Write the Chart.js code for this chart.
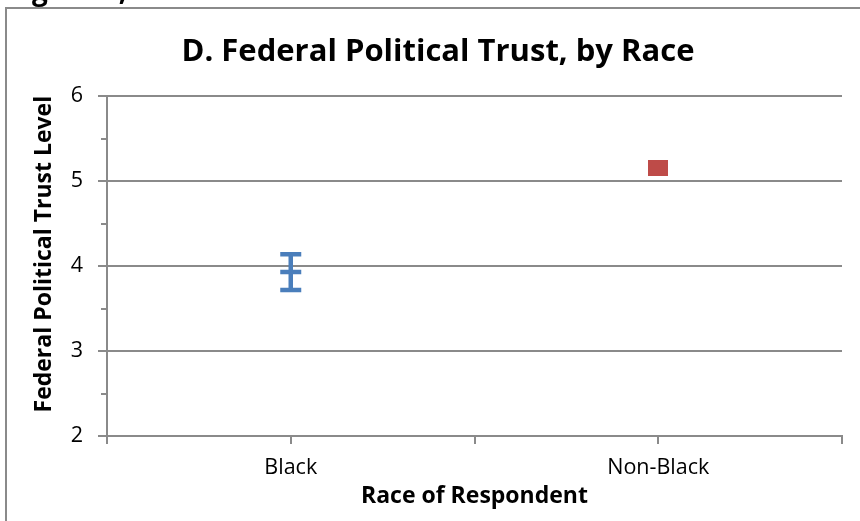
<!DOCTYPE html>
<html>
<head>
<meta charset="utf-8">
<script src="https://cdn.jsdelivr.net/npm/chart.js@4.4.1/dist/chart.umd.min.js"></script>
<style>
  html, body { margin: 0; padding: 0; background: #fff; overflow: hidden; width: 860px; height: 521px; }
  #wrap { position: relative; width: 860px; height: 521px; overflow: hidden; }
  #caption { position: absolute; left: 8px; top: -30px; font: bold 28px "Open Sans", sans-serif; color: #000; white-space: nowrap; }
  canvas { position: absolute; left: 0; top: 0; }
</style>
</head>
<body>
<div id="wrap">
  <canvas id="c" width="876" height="521" style="width:876px;height:521px"></canvas>
  <div id="caption">Figure 3,</div>
</div>
<script>
// Mean federal political trust by race of respondent, with 95% interval
const categories = ['Black', 'Non-Black'];
const trustMeans = [3.93, 5.15];
const trustErrors = [0.21, 0];
const yTicks = [2, 3, 4, 5, 6];
const yMinorTicks = [2.5, 3.5, 4.5, 5.5];
const seriesColors = ['#4A7EBB', '#BE4B48'];

const LINE = '#8a8a8a';
const FONT = '"Open Sans", Lato, sans-serif';

// rectangular marker for the Non-Black point
function rectMarker(w, h, color) {
  const c = document.createElement('canvas');
  c.width = w; c.height = h;
  const g = c.getContext('2d');
  g.fillStyle = color;
  g.fillRect(0, 0, w, h);
  return c;
}

// outer chart border (runs off the right and bottom edges)
const frame = {
  id: 'frame',
  beforeDraw(chart) {
    const ctx = chart.ctx;
    ctx.save();
    ctx.strokeStyle = LINE;
    ctx.lineWidth = 2;
    ctx.strokeRect(6, 8, 1200, 1200);
    ctx.restore();
  }
};

// short minor tick marks on the value axis
const minorTicks = {
  id: 'minorTicks',
  afterDraw(chart) {
    const { ctx, chartArea, scales: { y } } = chart;
    ctx.save();
    ctx.strokeStyle = LINE;
    ctx.lineWidth = 2;
    ctx.beginPath();
    yMinorTicks.forEach(v => {
      const py = Math.round(y.getPixelForValue(v));
      ctx.moveTo(chartArea.left - 6, py);
      ctx.lineTo(chartArea.left, py);
    });
    ctx.stroke();
    ctx.restore();
  }
};

const errorBars = {
  id: 'errorBars',
  afterDatasetsDraw(chart) {
    const { ctx, scales: { x, y } } = chart;
    ctx.save();
    ctx.lineWidth = 4.5;
    ctx.lineCap = 'butt';
    trustMeans.forEach((m, i) => {
      const e = trustErrors[i];
      if (!e) return;
      const px = x.getPixelForValue(i + 1);
      const top = y.getPixelForValue(m + e);
      const bot = y.getPixelForValue(m - e);
      ctx.strokeStyle = seriesColors[i];
      ctx.beginPath();
      ctx.moveTo(px, top); ctx.lineTo(px, bot);
      ctx.moveTo(px - 10.5, top); ctx.lineTo(px + 10.5, top);
      ctx.moveTo(px - 10.5, bot); ctx.lineTo(px + 10.5, bot);
      ctx.stroke();
    });
    ctx.restore();
  }
};

const datasets = categories.map((name, i) => ({
  label: name,
  data: [{ x: i + 1, y: trustMeans[i] }],
  borderColor: seriesColors[i],
  backgroundColor: seriesColors[i],
  pointStyle: i === 0 ? 'line' : rectMarker(20, 16, seriesColors[i]),
  pointRadius: 10.5,
  pointBorderWidth: 4.5,
  showLine: false
}));

new Chart(document.getElementById('c'), {
  type: 'scatter',
  data: { datasets },
  options: {
    responsive: false,
    animation: false,
    layout: { padding: { left: 34, right: 34, top: 0, bottom: 0 } },
    plugins: {
      legend: { display: false },
      tooltip: { enabled: false },
      title: {
        display: true,
        text: 'D. Federal Political Trust, by Race',
        color: '#000',
        font: { family: FONT, size: 31, weight: 'bold' },
        padding: { top: 34, bottom: 25 }
      }
    },
    scales: {
      x: {
        type: 'linear',
        min: 0.5, max: 2.5,
        afterFit(s) { s.height = 85; },
        border: { display: true, color: LINE, width: 2 },
        grid: { display: true, drawOnChartArea: false, drawTicks: true, tickLength: 8, color: LINE, lineWidth: 2 },
        ticks: {
          stepSize: 0.5,
          autoSkip: false,
          maxRotation: 0,
          padding: 11,
          color: '#000',
          font: { family: FONT, size: 21.5 },
          callback: v => (Number.isInteger(v) ? categories[v - 1] : '')
        },
        title: {
          display: true,
          text: 'Race of Respondent',
          color: '#000',
          font: { family: FONT, size: 23, weight: 'bold' },
          padding: { top: 0, bottom: 11 }
        }
      },
      y: {
        min: yTicks[0], max: yTicks[yTicks.length - 1],
        afterFit(s) { s.width = 73; },
        afterBuildTicks(s) { s.ticks = yTicks.map(v => ({ value: v })); },
        border: { display: true, color: LINE, width: 2 },
        grid: { display: true, drawTicks: true, tickLength: 9, color: LINE, lineWidth: 2 },
        ticks: {
          padding: 15,
          color: '#000',
          font: { family: FONT, size: 21.5 }
        },
        title: {
          display: true,
          text: '    Federal Political Trust Level',
          color: '#000',
          font: { family: FONT, size: 23, weight: 'bold' },
          padding: { top: -3.8, bottom: 0 }
        }
      }
    }
  },
  plugins: [frame, minorTicks, errorBars]
});
</script>
</body>
</html>
